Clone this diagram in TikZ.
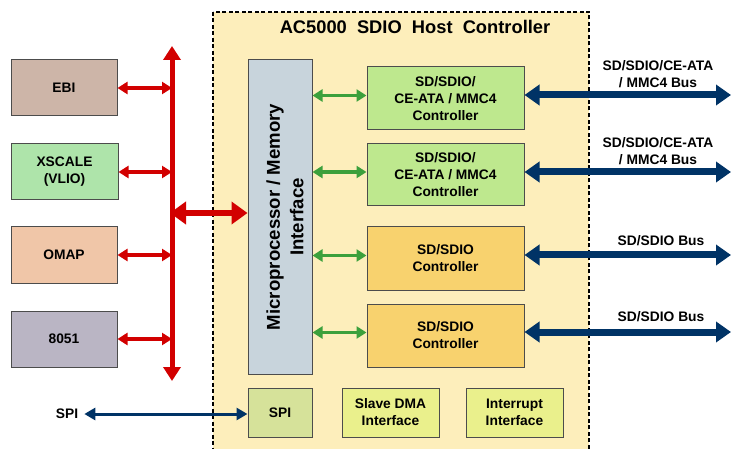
\documentclass[tikz,border=0pt]{standalone}
\usepackage{fontspec}
\setmainfont{Liberation Sans}
\usetikzlibrary{arrows.meta, positioning}
\definecolor{hostbg}{RGB}{253, 238, 187}
\definecolor{ebicol}{RGB}{205, 181, 168}
\definecolor{xscalecol}{RGB}{174, 228, 170}
\definecolor{omapcol}{RGB}{240, 198, 168}
\definecolor{chipcol}{RGB}{186, 181, 196}
\definecolor{micol}{RGB}{200, 212, 220}
\definecolor{mmccol}{RGB}{190, 232, 142}
\definecolor{sdcol}{RGB}{248, 210, 110}
\definecolor{spicol}{RGB}{214, 226, 154}
\definecolor{ifcol}{RGB}{234, 240, 140}
\definecolor{busred}{RGB}{210, 0, 0}
\definecolor{busgreen}{RGB}{60, 160, 60}
\definecolor{busblue}{RGB}{0, 51, 102}

\tikzset{
  blk/.style={draw=black!70, line width=1pt, align=center, inner sep=0pt,
              font=\bfseries\fontsize{13.8}{17}\selectfont},
  lbl/.style={align=center, inner sep=0pt, font=\bfseries\fontsize{13.8}{17}\selectfont},
  redbus/.style={draw=busred, line width=5pt,
                 {Triangle[width=17pt, length=14pt]}-{Triangle[width=17pt, length=14pt]}},
  redarr/.style={draw=busred, line width=4pt,
                 {Triangle[width=12pt, length=10pt]}-{Triangle[width=12pt, length=10pt]}},
  redbig/.style={draw=busred, line width=6.5pt,
                 {Triangle[width=22pt, length=16pt]}-{Triangle[width=22pt, length=16pt]}},
  grnarr/.style={draw=busgreen, line width=3.5pt,
                 {Triangle[width=12pt, length=10pt]}-{Triangle[width=12pt, length=10pt]}},
  bluarr/.style={draw=busblue, line width=7pt,
                 {Triangle[width=20pt, length=15pt]}-{Triangle[width=20pt, length=15pt]}},
  spiarr/.style={draw=busblue, line width=3pt,
                 {Triangle[width=12pt, length=11pt]}-{Triangle[width=12pt, length=11pt]}}
}

\begin{document}
\begin{tikzpicture}[x=1pt, y=-1pt]
  \useasboundingbox (0, 0) rectangle (731, 449);

  % host controller area
  \draw[fill=hostbg, line width=1.5pt, dash pattern=on 4pt off 2.5pt]
    (213, 12) rectangle (589, 455);
  \node[lbl, font=\bfseries\fontsize{18.3}{22}\selectfont] (title) at (415, 27)
    {AC5000\ \ SDIO\ \ Host\ \ Controller};

  % host processors
  \node[blk, fill=ebicol, minimum width=106, minimum height=56] (ebi) at (64, 88) {EBI};
  \node[blk, fill=xscalecol, minimum width=107, minimum height=56] (xscale) at (64.5, 172) {XSCALE\\(VLIO)};
  \node[blk, fill=omapcol, minimum width=106, minimum height=56] (omap) at (64, 255) {OMAP};
  \node[blk, fill=chipcol, minimum width=106, minimum height=56] (chip) at (64, 339) {8051};

  % inside the controller
  \node[blk, fill=micol, minimum width=64, minimum height=314] (micro) at (280, 217)
    {\hspace*{14pt}\rotatebox{90}{\fontsize{18.6}{23.5}\selectfont
     \begin{tabular}{@{}c@{}}Microprocessor / Memory\\Interface\end{tabular}}};
  \node[blk, fill=mmccol, minimum width=157, minimum height=63] (mmca) at (445.5, 98.5)
    {SD/SDIO/\\CE-ATA / MMC4\\Controller};
  \node[blk, fill=mmccol, minimum width=157, minimum height=62] (mmcb) at (445.5, 175)
    {SD/SDIO/\\CE-ATA / MMC4\\Controller};
  \node[blk, fill=sdcol, minimum width=157, minimum height=63] (sda) at (445.5, 258.5)
    {SD/SDIO\\Controller};
  \node[blk, fill=sdcol, minimum width=157, minimum height=63] (sdb) at (445.5, 335.5)
    {SD/SDIO\\Controller};
  \node[blk, fill=spicol, minimum width=64, minimum height=49] (spi) at (280, 412.5) {SPI};
  \node[blk, fill=ifcol, minimum width=97, minimum height=49] (dma) at (390.5, 412.5)
    {Slave DMA\\Interface};
  \node[blk, fill=ifcol, minimum width=97, minimum height=49] (intr) at (514.5, 412.5)
    {Interrupt\\Interface};

  % processor bus
  \coordinate (bustop) at (172, 46);
  \coordinate (busbot) at (172, 381);
  \draw[redbus] (bustop) -- (busbot);
  \foreach \n in {ebi, xscale, omap, chip} {
    \draw[redarr] (\n.east) -- (\n.east -| bustop);
  }
  \coordinate (busmid) at (170, 213);
  \draw[redbig] (busmid) -- (busmid -| micro.west);

  % internal links
  \foreach \n in {mmca, mmcb, sda, sdb} {
    \draw[grnarr] ([yshift=3pt]\n.west -| micro.east) -- ([yshift=3pt]\n.west);
  }

  % card buses
  \coordinate (outa) at (731, 95);
  \coordinate (outb) at (731, 172);
  \coordinate (outc) at (731, 255);
  \coordinate (outd) at (731, 332);
  \draw[bluarr] (mmca.east |- outa) -- (outa);
  \draw[bluarr] (mmcb.east |- outb) -- (outb);
  \draw[bluarr] (sda.east |- outc) -- (outc);
  \draw[bluarr] (sdb.east |- outd) -- (outd);
  \node[lbl] (labela) at (658, 74.5) {SD/SDIO/CE-ATA\\/ MMC4 Bus};
  \node[lbl] (labelb) at (658, 151.5) {SD/SDIO/CE-ATA\\/ MMC4 Bus};
  \node[lbl] (labelc) at (661, 241) {SD/SDIO Bus};
  \node[lbl] (labeld) at (661, 317) {SD/SDIO Bus};

  % serial port
  \node[lbl] (spiext) at (67, 414) {SPI};
  \draw[spiarr] ([xshift=6pt]spiext.east) -- (spi.west |- spiext.east);

\end{tikzpicture}
\end{document}
